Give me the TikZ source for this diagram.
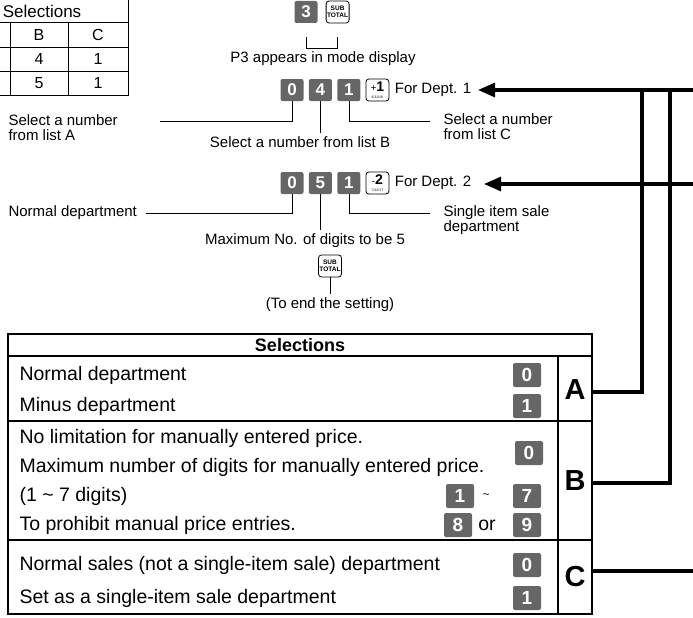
\documentclass[tikz,border=0pt]{standalone}
\usepackage{fontspec}
\setmainfont{Liberation Sans}
\usetikzlibrary{positioning, arrows.meta, calc}
\definecolor{keygray}{RGB}{102,102,102}

\begin{document}
\begin{tikzpicture}[
    x=1pt, y=-1pt,
    font=\fontsize{15}{17}\selectfont,
    numkey/.style={
        rectangle, rounded corners=2pt,
        fill=keygray, text=white,
        font=\fontsize{17}{17}\selectfont\bfseries,
        minimum width=23pt, minimum height=22pt, inner sep=0pt,
    },
    fnkey/.style={
        rectangle, rounded corners=3pt,
        draw, line width=0.8pt, fill=white, align=center,
        minimum width=23pt, minimum height=22pt, inner sep=0pt,
    },
    stkey/.style={fnkey, font=\fontsize{6.5}{6.5}\selectfont\bfseries},
    dkey/.style={fnkey, font=\fontsize{3.5}{3.5}\selectfont},
    lead/.style={line width=0.6pt},
    grid/.style={line width=1.1pt},
    bus/.style={line width=3.2pt},
    busarrow/.style={bus, -{Triangle[length=17pt, width=14pt]}},
    label/.style={anchor=west, align=left, font=\fontsize{15}{15}\selectfont},
    cell/.style={anchor=west, font=\fontsize{19.5}{19.5}\selectfont},
    tkey/.style={numkey, minimum width=28pt, minimum height=24pt, font=\fontsize{19}{19}\selectfont\bfseries},
    letter/.style={font=\fontsize{29}{29}\selectfont\bfseries},
]
\useasboundingbox (0,0) rectangle (693,618);

% =================================================
% Corner table (cut off at the left)
% =================================================
\draw[line width=0.8pt] (-48,-2) rectangle (128,95);
\draw[line width=0.8pt] (-48,22) -- (128,22) (-48,47) -- (128,47) (-48,71) -- (128,71);
\draw[line width=0.8pt] (10,22) -- (10,95) (68,22) -- (68,95);
\node[font=\fontsize{17}{17}\selectfont] (selhead) at (42,11) {Selections};
\node[font=\fontsize{16}{16}\selectfont] (colB)  at (39,35) {B};
\node[font=\fontsize{16}{16}\selectfont] (colC)  at (98,35) {C};
\node[font=\fontsize{16}{16}\selectfont] (b1)    at (39,59) {4};
\node[font=\fontsize{16}{16}\selectfont] (c1)    at (98,59) {1};
\node[font=\fontsize{16}{16}\selectfont] (b2)    at (39,83) {5};
\node[font=\fontsize{16}{16}\selectfont] (c2)    at (98,83) {1};

% =================================================
% Program 3 keys
% =================================================
\node[numkey] (k3) at (306,12) {3};
\node[stkey, right=8pt of k3] (st1) {SUB\\TOTAL};
\node (p3txt) at (323,59) {P3 appears in mode display};
\draw[lead] ($(k3.south)+(0,14)$) |- ($(st1.south)+(0,25)$) -- ($(st1.south)+(0,14)$);

% =================================================
% Dept. 1 row
% =================================================
\node[numkey] (d1a) at (292,90) {0};
\node[numkey, right=5pt of d1a] (d1b) {4};
\node[numkey, right=5pt of d1b] (d1c) {1};
\node[dkey, right=5pt of d1c] (dept1)
    {{\fontsize{10}{10}\selectfont +}{\fontsize{14}{14}\selectfont\bfseries 1}\\[3pt]6/11/16};
\node[label, right=2pt of dept1] (for1) {For Dept. 1};

\node[label] (listA) at (5,128) {Select a number\\from list A};
\node (listB) at (300,142) {Select a number from list B};
\node[label] (listC) at (440,127) {Select a number\\from list C};
\draw[lead] (d1a.south) |- (160,121);
\draw[lead] (d1b.south) -- (d1b.south |- listB.north);
\draw[lead] (d1c.south) |- (430,121);

% =================================================
% Dept. 2 row
% =================================================
\node[numkey] (d2a) at (292,183) {0};
\node[numkey, right=5pt of d2a] (d2b) {5};
\node[numkey, right=5pt of d2b] (d2c) {1};
\node[dkey, right=5pt of d2c] (dept2)
    {{\fontsize{10}{10}\selectfont -}{\fontsize{14}{14}\selectfont\bfseries 2}\\[3pt]7/12/17};
\node[label, right=2pt of dept2] (for2) {For Dept. 2};

\node[label] (normdep) at (5,213) {Normal department};
\node (maxdig) at (305,241) {Maximum No. of digits to be 5};
\node[label] (single) at (440,220) {Single item sale\\department};
\draw[lead] (d2a.south) |- ($(normdep.east)+(6,0)$);
\draw[lead] (d2b.south) -- (d2b.south |- maxdig.north);
\draw[lead] (d2c.south) |- (430,213);

% =================================================
% End of setting
% =================================================
\node[stkey] (st2) at (330,266) {SUB\\TOTAL};
\node (endtxt) at (330,305) {(To end the setting)};
\draw[lead] (st2.south) -- (endtxt.north);

% =================================================
% Selections table
% =================================================
\draw[grid] (8,334) rectangle (592,614);
\draw[grid] (8,356) -- (592,356);
\draw[grid] (8,421) -- (592,421);
\draw[grid] (8,540) -- (592,540);
\draw[grid] (558,356) -- (558,614);
\node[font=\fontsize{18}{18}\selectfont\bfseries] (tabhead) at (300,345) {Selections};

% A: department type
\node[cell] (rowA1) at (16,375) {Normal department};
\node[cell] (rowA2) at (16,406) {Minus department};
\node[tkey] (kA0) at (527,375) {0};
\node[tkey] (kA1) at (527,406) {1};
\node[letter] (selA) at (575,390) {A};

% B: digit limit
\node[cell] (rowB1) at (16,438) {No limitation for manually entered price.};
\node[cell] (rowB2) at (16,467) {Maximum number of digits for manually entered price.};
\node[cell] (rowB3) at (16,496) {(1 \textasciitilde\ 7 digits)};
\node[cell] (rowB4) at (16,525) {To prohibit manual price entries.};
\node[tkey] (kB0) at (529,453) {0};
\node[tkey] (kB7) at (527,496) {7};
\node[font=\fontsize{12}{12}\selectfont] (tilde) at (486,496) {\textasciitilde};
\node[tkey] (kB1) at (460,496) {1};
\node[tkey] (kB9) at (527,525) {9};
\node[cell, anchor=center] (orB) at (487,525) {or};
\node[tkey] (kB8) at (458,525) {8};
\node[letter] (selB) at (575,481) {B};

% C: single item
\node[cell] (rowC1) at (16,565) {Normal sales (not a single-item sale) department};
\node[cell] (rowC2) at (16,598) {Set as a single-item sale department};
\node[tkey] (kC0) at (527,565) {0};
\node[tkey] (kC1) at (527,598) {1};
\node[letter] (selC) at (575,577) {C};

% =================================================
% Bus lines back to the key rows
% =================================================
\coordinate (edgeA) at (592,392);
\coordinate (edgeB) at (592,483);
\coordinate (edgeC) at (592,571);
\coordinate (busA)  at (642,90);
\coordinate (busB)  at (670,90);
\coordinate (in1)   at (693,90);
\coordinate (in2)   at (693,184);
\coordinate (tip1)  at (478,90);
\coordinate (tip2)  at (484,184);
\coordinate (outC)  at (693,571);

\draw[busarrow] (in1) -- (tip1);
\draw[busarrow] (in2) -- (tip2);
\draw[bus] (edgeA) -| (busA);
\draw[bus] (edgeB) -| (busB);
\draw[bus] (edgeC) -- (outC);

\end{tikzpicture}
\end{document}
